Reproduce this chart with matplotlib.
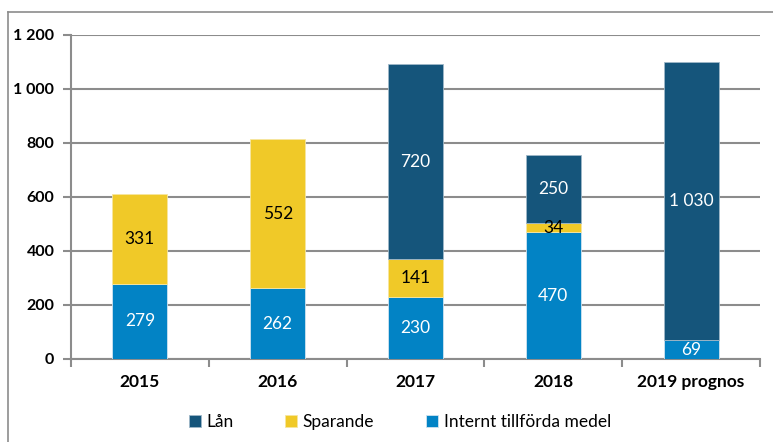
import matplotlib
matplotlib.use("Agg")
import matplotlib.pyplot as plt
from matplotlib.lines import Line2D
import numpy as np

plt.rcParams['font.family'] = ['Lato', 'DejaVu Sans']

categories = ["2015", "2016", "2017", "2018", "2019 prognos"]
internt = [279, 262, 230, 470, 69]
sparande = [331, 552, 141, 34, 0]
lan = [0, 0, 720, 250, 1030]
yticks = [0, 200, 400, 600, 800, 1000, 1200]

c_lan = "#15557B"
c_spar = "#F0C928"
c_int = "#0283C5"
grid_c = "#8C8C8C"

def fmt(v):
    return f"{v:,}".replace(",", " ")

def masked(vals):
    return np.array([v if v > 0 else np.nan for v in vals], dtype=float)

fig = plt.figure(figsize=(7.73, 4.42), dpi=100)
ax = fig.add_axes([71/773, 1-359/442, (760-71)/773, (359-35)/442])

x = np.arange(len(categories))
w = 0.4
bottom2 = np.array(internt, dtype=float)
bottom3 = bottom2 + np.array(sparande, dtype=float)
b1 = ax.bar(x, masked(internt), w, color=c_int, edgecolor="#cfe3f0", linewidth=0.6, zorder=3)
b2 = ax.bar(x, masked(sparande), w, bottom=bottom2, color=c_spar, edgecolor="#f6e6a0", linewidth=0.6, zorder=3)
b3 = ax.bar(x, masked(lan), w, bottom=bottom3, color=c_lan, edgecolor="#9fb8c8", linewidth=0.6, zorder=3)

fs_lab = 12.5
for i in range(len(categories)):
    if internt[i] > 0:
        ax.text(x[i], internt[i]/2, fmt(internt[i]), ha="center", va="center", color="white", fontsize=fs_lab, zorder=4)
    if sparande[i] > 0:
        ax.text(x[i], bottom2[i] + sparande[i]/2, fmt(sparande[i]), ha="center", va="center", color="black", fontsize=fs_lab, zorder=4)
    if lan[i] > 0:
        ax.text(x[i], bottom3[i] + lan[i]/2, fmt(lan[i]), ha="center", va="center", color="white", fontsize=fs_lab, zorder=4)

ax.set_xlim(-0.5, len(categories)-0.5)
ax.set_ylim(0, 1200)
ax.set_yticks(yticks)
ax.set_yticklabels([fmt(v) for v in yticks], fontweight="bold", fontsize=11.5)
ax.set_xticks(x)
ax.set_xticklabels(categories, fontweight="bold", fontsize=12.5)
ax.set_xticks(np.arange(len(categories)+1) - 0.5, minor=True)
ax.tick_params(axis="x", which="major", length=0, pad=11)
ax.tick_params(axis="x", which="minor", length=6, width=1.5, color=grid_c)
ax.tick_params(axis="y", length=6, width=1.5, color=grid_c, pad=6)
ax.yaxis.grid(True, color=grid_c, linewidth=1.5, zorder=0)
ax.set_axisbelow(True)
for s in ["top", "right"]:
    ax.spines[s].set_visible(False)
for s in ["left", "bottom"]:
    ax.spines[s].set_color(grid_c)
    ax.spines[s].set_linewidth(1.5)

handles = [b3, b2, b1]
labels = ["Lån", "Sparande", "Internt tillförda medel"]
fig.legend(handles, labels, loc="center", bbox_to_anchor=(0.517, 1-422/442), ncol=3,
           frameon=False, fontsize=12.5, handlelength=0.7, handleheight=0.7,
           handletextpad=0.3, columnspacing=3.0)

# outer frame
fig.add_artist(Line2D([8/773, 8/773], [0, 1-12/442], transform=fig.transFigure, color="#8C8C8C", linewidth=1.2))
fig.add_artist(Line2D([8/773, 1], [1-12/442, 1-12/442], transform=fig.transFigure, color="#8C8C8C", linewidth=1.2))

fig.savefig("out.png", dpi=100)
